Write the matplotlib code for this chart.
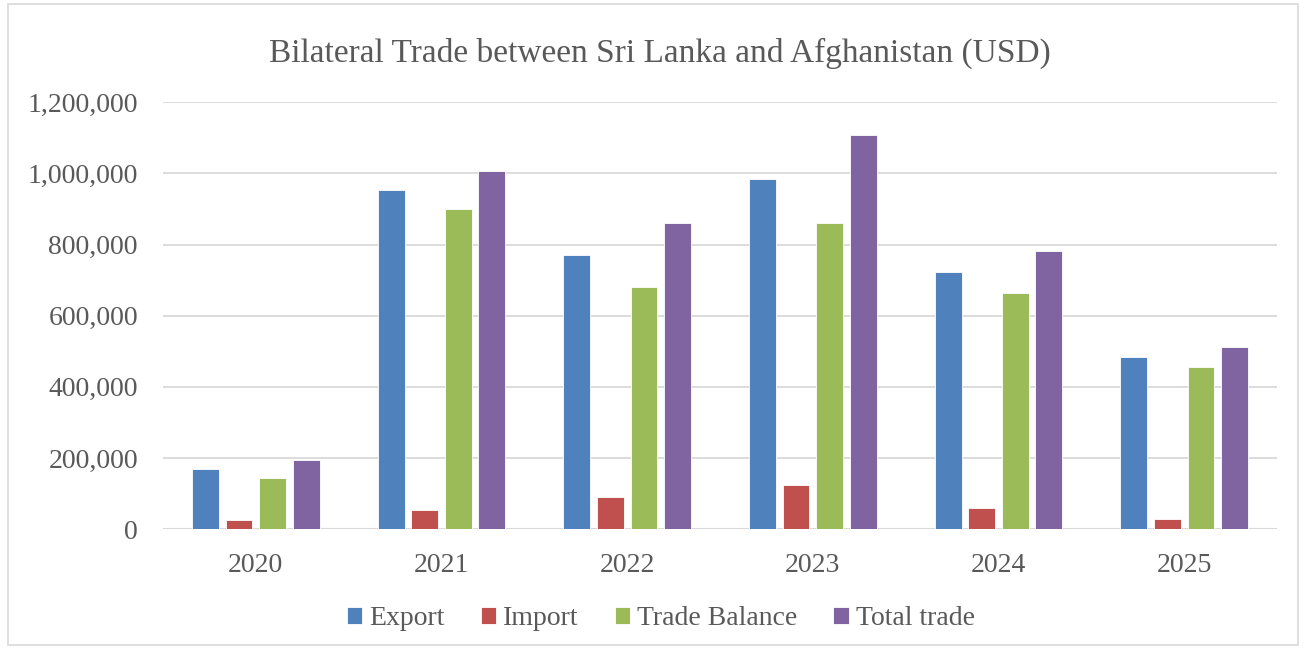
import numpy as np
import matplotlib.pyplot as plt
from matplotlib.patches import Rectangle
from matplotlib.ticker import FuncFormatter

years = ["2020", "2021", "2022", "2023", "2024", "2025"]
export = [169000, 953000, 770000, 983000, 723000, 484000]
imports = [25000, 53000, 90000, 124000, 59000, 28000]
trade_balance = [143000, 900000, 682000, 861000, 664000, 455000]
total_trade = [193000, 1007000, 861000, 1108000, 782000, 512000]

series = [
    ("Export", export, "#4F81BD"),
    ("Import", imports, "#C0504D"),
    ("Trade Balance", trade_balance, "#9BBB59"),
    ("Total trade", total_trade, "#8064A2"),
]

text_col = "#595959"
plt.rcParams["font.family"] = ["Liberation Serif", "DejaVu Serif"]

fig = plt.figure(figsize=(13.06, 6.48), dpi=100)
ax = fig.add_axes([0.1248, 0.1836, 0.8530, 0.6585])

x = np.arange(len(years))
pitch = 0.181
width = 0.145
for i, (name, vals, col) in enumerate(series):
    ax.bar(x + (i - 1.5) * pitch, vals, width, color=col, label=name,
           edgecolor="white", linewidth=0.6, zorder=3)

ax.set_xlim(-0.5, len(years) - 0.5)
ax.set_ylim(0, 1200000)
ax.set_yticks(np.arange(0, 1200001, 200000))
ax.yaxis.set_major_formatter(FuncFormatter(lambda v, p: f"{int(v):,}"))
ax.set_xticks(x)
ax.set_xticklabels(years)
ax.grid(axis="y", color="#D9D9D9", linewidth=1.3, zorder=0)
for s in ax.spines.values():
    s.set_visible(False)
ax.axhline(0, color="#D9D9D9", linewidth=1.5, zorder=2)
ax.tick_params(axis="both", length=0, labelsize=20, colors=text_col)
ax.tick_params(axis="y", pad=18)
ax.tick_params(axis="x", pad=17)

fig.text(0.505, 0.918, "Bilateral Trade between Sri Lanka and Afghanistan (USD)",
         ha="center", va="center", fontsize=24, color=text_col)

leg = fig.legend(loc="center", bbox_to_anchor=(0.506, 0.045), ncol=4, frameon=False,
                 fontsize=20, handlelength=0.55, handleheight=0.55, handletextpad=0.25,
                 columnspacing=1.3)
for t in leg.get_texts():
    t.set_color(text_col)

fig.patches.append(Rectangle((0.006, 0.004), 0.988, 0.99, transform=fig.transFigure,
                             fill=False, edgecolor="#D9D9D9", linewidth=1.2))

fig.savefig("out.png", dpi=100)
